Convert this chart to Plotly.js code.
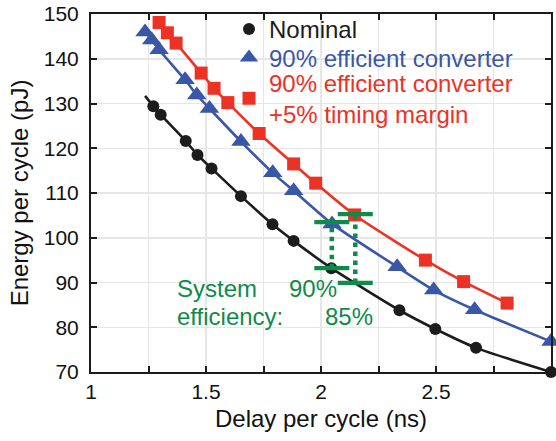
<!DOCTYPE html>
<html>
<head>
<meta charset="utf-8">
<script src="https://cdn.plot.ly/plotly-3.0.1.min.js"></script>
<style>html,body{margin:0;padding:0;background:#fff;}#chart{width:556px;height:441px;}</style>
</head>
<body>
<div id="chart"></div>
<script>
// ---- data ----
var nomX = [1.271, 1.303, 1.412, 1.463, 1.524, 1.652, 1.789, 1.881, 2.045, 2.341, 2.497, 2.674, 3.0];
var nomY = [129.4, 127.5, 121.6, 118.5, 115.5, 109.3, 103.0, 99.3, 93.2, 83.8, 79.6, 75.4, 70.0];
var nomCurveStartX = [1.235];
var nomCurveStartY = [131.7];

var effX = [1.235, 1.264, 1.296, 1.409, 1.460, 1.515, 1.652, 1.790, 1.881, 2.048, 2.331, 2.490, 2.668, 3.0];
var effY = [146.0, 144.2, 142.0, 135.3, 131.9, 128.9, 121.5, 114.5, 110.5, 103.1, 93.5, 88.3, 83.9, 76.8];

var marX = [1.296, 1.332, 1.370, 1.479, 1.535, 1.595, 1.731, 1.881, 1.977, 2.146, 2.454, 2.620, 2.809];
var marY = [148.1, 145.8, 143.5, 136.8, 133.4, 130.2, 123.3, 116.5, 112.2, 105.1, 95.0, 90.2, 85.4];

var barX = [2.047, 2.149];
var barTop = [103.5, 105.3];
var barBottom = [93.2, 89.9];
var barLabels = ['90%', '85%'];

var seriesNames = ['Nominal', '90% efficient converter', '90% efficient converter<br>+5% timing margin'];
var xTickVals = [1, 1.25, 1.5, 1.75, 2, 2.25, 2.5, 2.75, 3];
var xTickText = ['1', '', '1.5', '', '2', '', '2.5', '', '3'];
var yTickVals = [70, 80, 90, 100, 110, 120, 130, 140, 150];

// ---- styling ----
var FONT = 'Liberation Sans, Arial, Helvetica, sans-serif';
var cBlack = '#1c1c1c', cBlue = '#3a57a7', cRed = '#ec3225', cGreen = '#0e8b4b';

function colored(name, c) {
  return name.split('<br>').map(function (s) { return '<span style="color:' + c + '">' + s + '</span>'; }).join('<br>');
}

var traces = [];
// curves
traces.push({x: nomCurveStartX.concat(nomX), y: nomCurveStartY.concat(nomY), mode: 'lines', line: {color: cBlack, width: 2.6, shape: 'spline', smoothing: 0.6}, showlegend: false, hoverinfo: 'skip'});
traces.push({x: effX, y: effY, mode: 'lines', line: {color: cBlue, width: 2.6, shape: 'spline', smoothing: 0.6}, showlegend: false, hoverinfo: 'skip'});
traces.push({x: marX, y: marY, mode: 'lines', line: {color: cRed, width: 2.6, shape: 'spline', smoothing: 0.6}, showlegend: false, hoverinfo: 'skip'});
// markers
traces.push({x: nomX, y: nomY, mode: 'markers', name: colored(seriesNames[0], cBlack), legend: 'legend', marker: {symbol: 'circle', size: 12, color: cBlack}, cliponaxis: false});
traces.push({x: effX, y: effY, mode: 'markers', name: colored(seriesNames[1], cBlue), legend: 'legend2', marker: {symbol: 'triangle-up', size: 17, color: cBlue}, cliponaxis: false});
traces.push({x: marX, y: marY, mode: 'markers', name: colored(seriesNames[2], cRed), legend: 'legend3', marker: {symbol: 'square', size: 13, color: cRed}, cliponaxis: false});
// efficiency bars
for (var i = 0; i < barX.length; i++) {
  traces.push({x: [barX[i], barX[i]], y: [barBottom[i], barTop[i]], mode: 'lines', line: {color: cGreen, width: 4.5, dash: 'dot'}, showlegend: false, hoverinfo: 'skip'});
  traces.push({x: [barX[i], barX[i]], y: [barBottom[i], barTop[i]], mode: 'markers', marker: {symbol: 'line-ew', size: 25, color: cGreen, line: {color: cGreen, width: 4.3}}, showlegend: false, hoverinfo: 'skip', cliponaxis: false});
}

var axisCommon = {
  showline: true, linecolor: cBlack, linewidth: 2, mirror: 'ticks',
  ticks: 'inside', ticklen: 6, tickwidth: 2, tickcolor: cBlack,
  showgrid: true, gridcolor: '#e6e6e6', gridwidth: 1.5, zeroline: false,
  tickfont: {family: FONT, size: 21, color: '#111'}
};

function legendAt(y) {
  return {x: 0.3, y: y, xanchor: 'left', yanchor: 'top', bgcolor: 'rgba(0,0,0,0)', borderwidth: 0,
          font: {family: FONT, size: 24}, itemsizing: 'trace', valign: 'middle'};
}

var layout = {
  width: 556, height: 441,
  margin: {l: 91, r: 5, t: 14, b: 69},
  paper_bgcolor: '#fff', plot_bgcolor: '#fff',
  font: {family: FONT, size: 24, color: '#111'},
  showlegend: true,
  legend: legendAt(1.02),
  legend2: legendAt(0.94),
  legend3: legendAt(0.87),
  xaxis: Object.assign({}, axisCommon, {range: [1, 3], tickmode: 'array', tickvals: xTickVals, ticktext: xTickText,
    ticklabelstandoff: 0,
    title: {text: 'Delay per cycle (ns)', font: {family: FONT, size: 24, color: '#111'}, standoff: 8}}),
  yaxis: Object.assign({}, axisCommon, {range: [70, 150], tickmode: 'array', tickvals: yTickVals,
    ticklabelstandoff: 6,
    title: {text: 'Energy per cycle (pJ)', font: {family: FONT, size: 24, color: '#111'}, standoff: 8}}),
  annotations: [
    {x: 1.366, y: 88.55, xref: 'x', yref: 'y', text: 'System', showarrow: false, xanchor: 'left', yanchor: 'middle', font: {family: FONT, size: 24, color: cGreen}},
    {x: 1.366, y: 82.36, xref: 'x', yref: 'y', text: 'efficiency:', showarrow: false, xanchor: 'left', yanchor: 'middle', font: {family: FONT, size: 24, color: cGreen}},
    {x: 1.853, y: 88.55, xref: 'x', yref: 'y', text: barLabels[0], showarrow: false, xanchor: 'left', yanchor: 'middle', font: {family: FONT, size: 24, color: cGreen}},
    {x: 2.010, y: 82.36, xref: 'x', yref: 'y', text: barLabels[1], showarrow: false, xanchor: 'left', yanchor: 'middle', font: {family: FONT, size: 24, color: cGreen}}
  ]
};

Plotly.newPlot('chart', traces, layout, {staticPlot: true, displayModeBar: false});
</script>
</body>
</html>
